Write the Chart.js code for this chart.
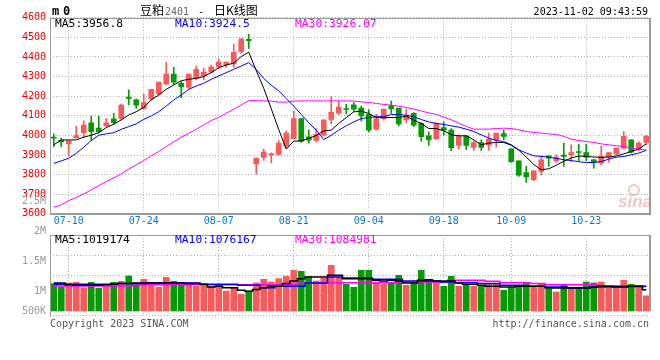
<!DOCTYPE html>
<html><head><meta charset="utf-8">
<script src="https://cdn.jsdelivr.net/npm/chart.js@4.4.0/dist/chart.umd.min.js"></script>
<style>
html,body{margin:0;padding:0;background:#fff;}
#wrap{position:relative;width:660px;height:360px;overflow:hidden;background:#fff;}
canvas{position:absolute;left:0;}
#main{top:0;}
#vol{top:190px;}
</style></head><body>
<div id="wrap"><canvas id="main" width="660" height="230"></canvas><canvas id="vol" width="660" height="170"></canvas></div>
<script>
// ---------- data ----------
const dates = ['07-06','07-07','07-10','07-11','07-12','07-13','07-14','07-17','07-18','07-19','07-20','07-21','07-24','07-25','07-26','07-27','07-28','07-31','08-01','08-02','08-03','08-04','08-07','08-08','08-09','08-10','08-11','08-14','08-15','08-16','08-17','08-18','08-21','08-22','08-23','08-24','08-25','08-28','08-29','08-30','08-31','09-01','09-04','09-05','09-06','09-07','09-08','09-11','09-12','09-13','09-14','09-15','09-18','09-19','09-20','09-21','09-22','09-25','09-26','09-27','09-28','10-09','10-10','10-11','10-12','10-13','10-16','10-17','10-18','10-19','10-20','10-23','10-24','10-25','10-26','10-27','10-30','10-31','11-01','11-02'];
const axisDates = ['07-10','07-24','08-07','08-21','09-04','09-18','10-09','10-23'];
const priceTicks = [3600,3700,3800,3900,4000,4100,4200,4300,4400,4500,4600];

const open = [3990,3975,3957,3987,4014,4064,4038,4050,4084,4087,
 4195,4181,4137,4186,4211,4262,4313,4266,4245,4291,
 4303,4323,4349,4361,4364,4427,4490,3855,3888,3901,
 3903,3945,3984,4086,3993,3974,4001,4081,4113,4135,
 4156,4139,4107,4032,4086,4151,4139,4079,4113,4061,
 3998,3983,4040,4027,3949,3998,3939,3964,3952,3976,
 4010,3932,3871,3811,3774,3816,3896,3871,3900,3900,
 3918,3913,3876,3859,3889,3906,3935,3978,3932,3964];
const high = [4008,3985,3972,4048,4074,4099,4099,4087,4113,4160,
 4232,4186,4211,4235,4272,4374,4347,4274,4313,4354,
 4342,4359,4391,4374,4466,4492,4517,3885,3930,3911,
 3974,4023,4124,4086,4027,4035,4081,4197,4175,4159,
 4168,4149,4132,4107,4134,4175,4139,4134,4117,4066,
 4018,4066,4069,4035,4003,3998,3974,3978,4012,4012,
 4029,3932,3871,3842,3820,3896,3896,3901,3961,3952,
 3956,3956,3879,3947,3913,3935,4020,3978,3969,4000];
const low = [3943,3943,3895,3987,3990,3974,4011,4045,4057,4082,
 4155,4137,4133,4181,4206,4257,4259,4193,4240,4283,
 4283,4320,4342,4347,4347,4418,4444,3802,3872,3860,
 3899,3937,3981,3964,3961,3967,3996,4059,4107,4110,
 4124,4074,4018,4027,4078,4112,4049,4064,4044,3971,
 3949,3979,4001,3922,3930,3927,3923,3923,3923,3940,
 3978,3862,3791,3760,3769,3799,3842,3862,3842,3867,
 3871,3871,3833,3850,3862,3901,3930,3910,3923,3952];
const close = [3986,3967,3972,3999,4053,4019,4019,4064,4065,4155,
 4189,4154,4167,4235,4272,4313,4271,4249,4313,4337,
 4323,4349,4374,4374,4424,4492,4483,3885,3915,3904,
 3961,4012,4086,3971,3976,4006,4078,4118,4144,4132,
 4134,4100,4027,4085,4134,4135,4059,4102,4052,3993,
 3978,4061,4027,3937,3995,3949,3964,3939,3981,4012,
 3995,3866,3798,3788,3820,3876,3884,3889,3893,3913,
 3913,3889,3862,3893,3913,3935,3995,3915,3961,3995];

const ma5 = [3952,3977,3977,3977,3991,4001,4014,4040,4057,4079,
 4104,4121,4143,4181,4206,4235,4257,4279,4286,4291,
 4300,4320,4345,4359,4368,4402,4424,4330,4240,4136,
 4030,3930,3971,3972,3984,4000,4023,4027,4061,4091,
 4120,4124,4112,4091,4091,4091,4091,4098,4078,4061,
 4035,4035,4024,4003,3998,3998,3978,3952,3961,3964,
 3964,3950,3925,3890,3852,3825,3830,3848,3868,3885,
 3895,3893,3890,3888,3890,3895,3906,3918,3930,3957];
const ma10 = [3858,3870,3884,3909,3940,3974,4001,4008,4014,4031,
 4045,4059,4082,4099,4121,4150,4181,4206,4235,4252,
 4266,4286,4303,4320,4337,4354,4371,4337,4290,4256,
 4227,4188,4149,4107,4064,4027,3979,4001,4027,4049,
 4069,4086,4091,4095,4095,4107,4107,4103,4095,4081,
 4069,4061,4056,4049,4042,4032,4020,4003,3986,3974,
 3969,3952,3927,3910,3896,3893,3889,3883,3876,3872,
 3866,3862,3862,3867,3879,3889,3893,3901,3910,3924];
const ma30 = [3634,3646,3668,3683,3702,3722,3744,3765,3783,3804,
 3828,3850,3872,3896,3918,3943,3967,3991,4011,4031,
 4053,4076,4092,4113,4133,4155,4177,4177,4176,4175,
 4170,4170,4175,4176,4176,4176,4176,4176,4176,4176,
 4175,4171,4168,4163,4158,4154,4149,4142,4135,4124,
 4115,4107,4093,4080,4063,4046,4032,4032,4032,4035,
 4037,4035,4029,4020,4015,4012,4008,4005,3995,3981,
 3974,3969,3964,3957,3952,3947,3944,3935,3930,3926];

// volume, in thousands of lots
const volK = [1123,1067,1134,1145,1050,1145,1045,1078,1145,1162,
 1251,1095,1195,1139,1062,1228,1162,1139,1112,1078,
 1095,1067,1112,1000,1056,945,1000,1134,1195,1150,
 1206,1245,1345,1328,1234,1167,1212,1428,1234,1112,
 1062,1345,1345,1150,1112,1139,1262,1095,1123,1345,
 1189,1150,1078,1245,1078,1095,1078,1095,1112,1112,
 1012,1056,1095,1134,1078,1112,1050,984,1095,1039,
 1056,1150,1134,1150,1050,1056,1178,1112,1067,917];
const volMa5K = [1134,1134,1106,1095,1095,1095,1095,1106,1112,1123,
 1123,1134,1134,1134,1134,1134,1134,1134,1123,1123,
 1112,1067,1078,1056,1056,1012,995,1023,1056,1078,
 1078,1123,1167,1206,1234,1234,1234,1262,1262,1206,
 1206,1206,1206,1178,1167,1178,1167,1134,1134,1178,
 1189,1167,1167,1167,1134,1112,1112,1095,1078,1078,
 1067,1067,1078,1078,1078,1078,1056,1050,1050,1050,
 1050,1050,1067,1078,1078,1067,1067,1078,1078,1019];
const volMa10K = [1112,1112,1112,1112,1112,1112,1112,1112,1112,1123,
 1123,1123,1123,1134,1134,1134,1134,1134,1134,1134,
 1112,1112,1112,1112,1112,1095,1095,1095,1056,1056,
 1078,1078,1078,1078,1134,1134,1134,1234,1234,1217,
 1217,1217,1217,1195,1195,1195,1195,1167,1167,1167,
 1167,1167,1150,1150,1139,1139,1139,1123,1123,1123,
 1095,1095,1095,1078,1078,1078,1067,1067,1067,1050,
 1050,1050,1067,1067,1067,1076,1076,1076,1076,1076];
const volMa30K = [1084,1084,1084,1084,1084,1084,1084,1084,1084,1084,
 1084,1106,1106,1106,1106,1106,1106,1106,1106,1106,
 1106,1106,1106,1106,1106,1106,1106,1106,1106,1106,
 1106,1106,1106,1134,1134,1134,1134,1139,1139,1139,
 1139,1139,1139,1139,1139,1139,1139,1150,1150,1150,
 1150,1150,1150,1178,1178,1178,1178,1178,1162,1162,
 1139,1139,1139,1139,1123,1123,1106,1106,1106,1106,
 1106,1106,1106,1085,1085,1085,1085,1085,1085,1085];
const volTickValuesK = [2500,2000,1500,1000];
const volTickLabels = ['2.5M','2M','1.5M','1M'];
const volBottomLabel = '500K';

const titleParts = ['豆粕','2401','-','日K线图'];
const codeText = ['m','0'];
const stampText = '2023-11-02 09:43:59';
const priceLegend = ['MA5:3956.8','MA10:3924.5','MA30:3926.07'];
const volLegend = ['MA5:1019174','MA10:1076167','MA30:1084981'];
const footLeft = 'Copyright 2023 SINA.COM';
const footRight = 'http://finance.sina.com.cn';

// ---------- styles ----------
const RED = '#f65a5a', GREEN = '#069a06';
const LEG_COLORS = ['#000000','#0000ff','#ff00ff'];
const MONO = '"DejaVu Sans Mono","Liberation Mono",monospace';
const CJK = '"Noto Sans CJK SC",sans-serif';
const GRID = '#b0b0b0';
const FRAME = '#9a9a9a';

const idx = dates.map((d, i) => i);
const candleColors = idx.map(i => close[i] >= open[i] ? RED : GREEN);
const axisIdx = axisDates.map(d => dates.indexOf(d));

const lineDs = (arr, color, extra) => Object.assign({
  type: 'line', data: idx.map(i => ({x: i, y: arr[i]})),
  borderColor: color, borderWidth: 1, pointRadius: 0, tension: 0, order: 0
}, extra || {});

const xScale = (showLabels) => ({
  type: 'linear', min: -0.5, max: dates.length - 0.5, offset: false,
  afterBuildTicks: s => { s.ticks = axisIdx.map(v => ({value: v})); },
  ticks: {
    display: showLabels, autoSkip: false, maxRotation: 0, padding: 2,
    color: '#0a78d2', font: {family: MONO, size: 10},
    callback: v => dates[v]
  },
  grid: {color: GRID, lineWidth: 1, drawTicks: false, offset: false},
  border: {display: false, dash: [1, 2]},
  afterFit: s => { s.height = showLabels ? 16.1 : 0; }
});

// ---------- main price chart ----------
const mainDecor = {
  id: 'mainDecor',
  afterDraw(chart) {
    const ctx = chart.ctx;
    const {left, right, top, bottom} = chart.chartArea;
    ctx.save();
    ctx.fillStyle = FRAME;
    ctx.fillRect(left, Math.round(top), right - left, 1);
    ctx.fillRect(left, Math.round(top), 1, bottom - top);
    ctx.fillRect(right - 1, Math.round(top), 2, bottom - top + 1);
    ctx.fillRect(left, Math.round(bottom) - 1, right - left + 1, 2);

    ctx.textBaseline = 'alphabetic';
    ctx.textAlign = 'left';
    ctx.fillStyle = '#000';
    ctx.font = 'bold 12px ' + MONO;
    ctx.fillText(codeText[0], 52, 15);
    ctx.fillText(codeText[1], 63, 15);
    ctx.font = '12px ' + CJK;
    ctx.fillText(titleParts[0], 140, 15);
    ctx.font = '10px ' + MONO;
    ctx.fillStyle = '#666';
    ctx.fillText(titleParts[1], 165, 15);
    ctx.fillStyle = '#000';
    ctx.fillText(titleParts[2], 198, 15);
    ctx.font = '12px ' + CJK;
    ctx.fillText(titleParts[3], 214, 15);

    ctx.font = '10px ' + MONO;
    ctx.textAlign = 'right';
    ctx.fillText(stampText, 648, 15);

    ctx.textAlign = 'left';
    ctx.textBaseline = 'middle';
    ctx.font = '11.3px ' + MONO;
    const lx = [55, 175, 295];
    priceLegend.forEach((t, k) => { ctx.fillStyle = LEG_COLORS[k]; ctx.fillText(t, lx[k], 24); });

    // sina watermark
    ctx.textBaseline = 'alphabetic';
    ctx.font = 'italic bold 17px "Liberation Sans",sans-serif';
    ctx.fillStyle = 'rgba(215,130,130,0.45)';
    ctx.fillText('sina', 618, 207);
    ctx.beginPath();
    ctx.arc(634, 190, 5, 0, Math.PI * 2);
    ctx.strokeStyle = 'rgba(215,130,130,0.45)';
    ctx.lineWidth = 2;
    ctx.stroke();
    ctx.restore();
  }
};

new Chart(document.getElementById('main'), {
  data: {
    datasets: [
      lineDs(ma5, '#000000'),
      lineDs(ma10, '#0000ff'),
      lineDs(ma30, '#ff00ff'),
      {type: 'bar', data: idx.map(i => ({x: i, y: [low[i], high[i]]})), backgroundColor: candleColors,
       barThickness: 1, grouped: false, order: 2},
      {type: 'bar', data: idx.map(i => ({x: i, y: [open[i], close[i]]})), backgroundColor: candleColors,
       barThickness: 5, minBarLength: 1, grouped: false, order: 1}
    ]
  },
  options: {
    responsive: false, animation: false, events: [],
    layout: {padding: {left: 0, right: 10, top: 17.7, bottom: 0}},
    plugins: {legend: {display: false}, tooltip: {enabled: false}},
    scales: {
      x: xScale(true),
      y: {
        type: 'linear', min: 3600, max: 4600,
        afterBuildTicks: s => { s.ticks = priceTicks.map(v => ({value: v})); },
        ticks: {color: '#ee0000', font: {family: MONO, size: 10}, padding: 4, autoSkip: false,
                callback: v => String(v)},
        grid: {color: GRID, drawTicks: false},
        border: {display: false, dash: [1, 2]},
        afterFit: s => { s.width = 50; }
      }
    }
  },
  plugins: [mainDecor]
});

// ---------- volume chart ----------
const VOL_MIN = 600, VOL_MAX = 1933.33, VOL_BASE = 666.67;
const volDecor = {
  id: 'volDecor',
  afterDraw(chart) {
    const ctx = chart.ctx;
    const {left, right, top, bottom} = chart.chartArea;
    const y = chart.scales.y;
    ctx.save();
    ctx.fillStyle = FRAME;
    ctx.fillRect(left, Math.round(top), right - left, 1);
    ctx.fillRect(left, Math.round(top), 1, bottom - top + 2);
    ctx.fillRect(right - 1, Math.round(top), 2, y.getPixelForValue(VOL_BASE) - top);

    ctx.font = '10px ' + MONO;
    ctx.textAlign = 'right';
    ctx.textBaseline = 'middle';
    ctx.fillStyle = '#999';
    volTickValuesK.forEach((v, k) => ctx.fillText(volTickLabels[k], 46, y.getPixelForValue(v)));
    ctx.fillText(volBottomLabel, 46, y.getPixelForValue(VOL_BASE));

    ctx.textAlign = 'left';
    ctx.font = '11.3px ' + MONO;
    const lx = [55, 175, 295];
    volLegend.forEach((t, k) => { ctx.fillStyle = LEG_COLORS[k]; ctx.fillText(t, lx[k], top + 5); });

    ctx.font = '10px ' + MONO;
    ctx.fillStyle = '#555';
    ctx.textBaseline = 'alphabetic';
    ctx.fillText(footLeft, 50, 137);
    ctx.textAlign = 'right';
    ctx.fillText(footRight, 649, 137);
    ctx.restore();
  }
};

new Chart(document.getElementById('vol'), {
  data: {
    datasets: [
      lineDs(volMa5K, '#000000', {borderWidth: 1.5, stepped: 'middle'}),
      lineDs(volMa10K, '#0000ff', {borderWidth: 1.5, stepped: 'middle'}),
      lineDs(volMa30K, '#ff00ff', {borderWidth: 1.5, stepped: 'middle'}),
      {type: 'bar', data: idx.map(i => ({x: i, y: volK[i]})), backgroundColor: candleColors,
       barThickness: 6, base: VOL_BASE, grouped: false, order: 1}
    ]
  },
  options: {
    responsive: false, animation: false, events: [],
    layout: {padding: {left: 0, right: 10, top: 45, bottom: 45}},
    plugins: {legend: {display: false}, tooltip: {enabled: false}},
    scales: {
      x: xScale(false),
      y: {
        type: 'linear', min: VOL_MIN, max: VOL_MAX,
        afterBuildTicks: s => { s.ticks = [0, 1, 2, 3, 4].map(k => ({value: VOL_MIN + k * (VOL_MAX - VOL_MIN) / 4})); },
        ticks: {display: false},
        grid: {color: GRID, drawTicks: false},
        border: {display: false, dash: [1, 2]},
        afterFit: s => { s.width = 50; }
      }
    }
  },
  plugins: [volDecor]
});
</script>
</body></html>
